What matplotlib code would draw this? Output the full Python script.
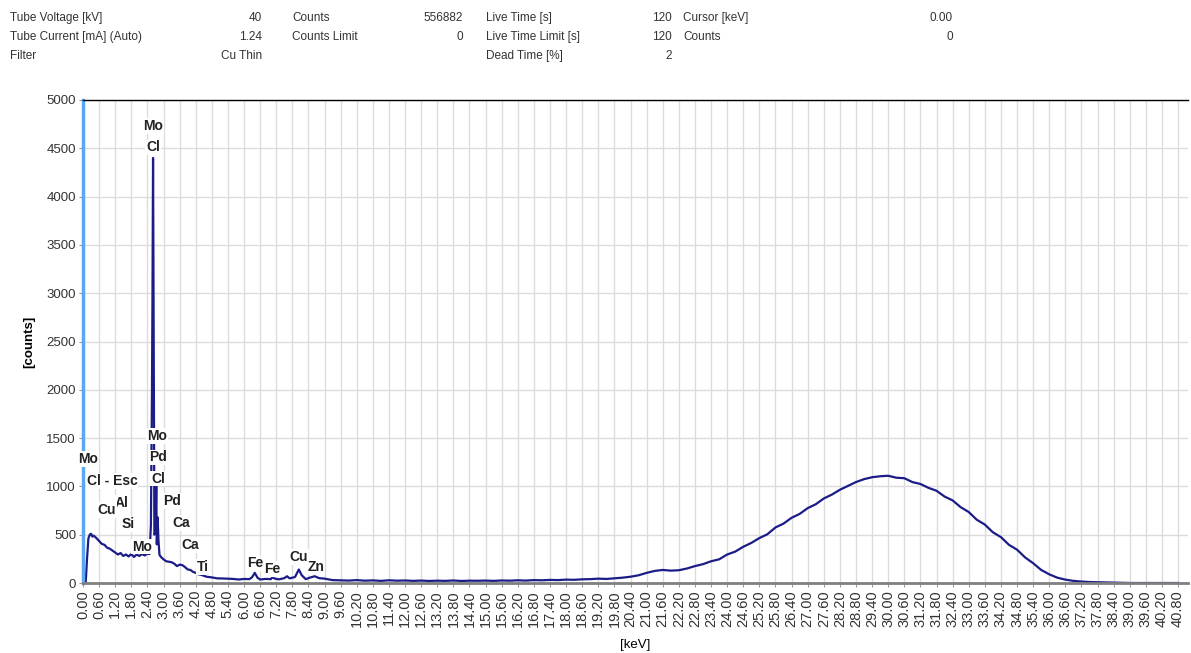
import matplotlib.pyplot as plt

plt.rcParams['font.family'] = ['Liberation Sans Narrow', 'Liberation Sans', 'DejaVu Sans']

# Espectro: zona baja (0 - 9 keV)
e_bajo = [0.00, 0.10, 0.15, 0.20, 0.25, 0.30, 0.35, 0.40, 0.50, 0.60, 0.70, 0.80,
          0.90, 1.00, 1.10, 1.20, 1.30, 1.40, 1.50, 1.60, 1.70, 1.80, 1.90, 2.00,
          2.10, 2.20, 2.30, 2.40, 2.48, 2.53, 2.57, 2.59, 2.61, 2.63, 2.66, 2.70,
          2.73, 2.75, 2.78, 2.81, 2.85, 2.88, 2.92, 3.00, 3.10, 3.20, 3.30, 3.40,
          3.50, 3.60, 3.70, 3.80, 3.90, 4.00, 4.10, 4.20, 4.30, 4.40, 4.60, 4.80,
          5.00, 5.20, 5.40, 5.60, 5.80, 6.00, 6.20, 6.30, 6.40, 6.50, 6.60, 6.80,
          7.00, 7.06, 7.15, 7.30, 7.50, 7.60, 7.70, 7.90, 8.04, 8.15, 8.30, 8.45,
          8.63, 8.80]
c_bajo = [0, 0, 250, 460, 500, 510, 480, 490, 465, 435, 405, 395,
          365, 355, 335, 315, 295, 310, 280, 295, 275, 300, 270, 295,
          280, 300, 285, 305, 300, 600, 2000, 3050, 4400, 2700, 500, 520,
          1000, 400, 680, 450, 290, 280, 265, 245, 225, 220, 215, 200,
          175, 190, 185, 165, 140, 135, 115, 105, 90, 85, 65, 58,
          48, 47, 44, 42, 36, 42, 40, 60, 105, 55, 36, 42,
          40, 60, 45, 38, 50, 70, 48, 62, 140, 80, 40, 55,
          70, 50]

# Zona alta (9 - 40.8 keV), cada 0.3 keV
e_alto = [9.0, 9.3, 9.6, 9.9, 10.2, 10.5, 10.8, 11.1, 11.4, 11.7, 12.0, 12.3,
          12.6, 12.9, 13.2, 13.5, 13.8, 14.1, 14.4, 14.7, 15.0, 15.3, 15.6, 15.9,
          16.2, 16.5, 16.8, 17.1, 17.4, 17.7, 18.0, 18.3, 18.6, 18.9, 19.2, 19.5,
          19.8, 20.1, 20.4, 20.7, 21.0, 21.3, 21.6, 21.9, 22.2, 22.5, 22.8, 23.1,
          23.4, 23.7, 24.0, 24.3, 24.6, 24.9, 25.2, 25.5, 25.8, 26.1, 26.4, 26.7,
          27.0, 27.3, 27.6, 27.9, 28.2, 28.5, 28.8, 29.1, 29.4, 29.7, 30.0, 30.3,
          30.6, 30.9, 31.2, 31.5, 31.8, 32.1, 32.4, 32.7, 33.0, 33.3, 33.6, 33.9,
          34.2, 34.5, 34.8, 35.1, 35.4, 35.7, 36.0, 36.3, 36.6, 36.9, 37.2, 37.5,
          37.8, 38.1, 38.4, 38.7, 39.0, 40.8]
c_alto = [45, 30, 28, 25, 30, 24, 27, 22, 28, 24, 26, 22,
          25, 21, 24, 22, 26, 21, 24, 23, 25, 22, 26, 24,
          28, 25, 30, 28, 32, 30, 35, 33, 38, 40, 45, 42,
          48, 55, 65, 80, 105, 125, 135, 128, 132, 150, 175, 195,
          225, 245, 295, 325, 375, 415, 465, 505, 575, 615, 675, 715,
          775, 815, 875, 915, 965, 1005, 1045, 1075, 1095, 1105, 1110, 1090,
          1085, 1045, 1025, 985, 955, 895, 855, 785, 735, 655, 605, 525,
          475, 395, 345, 265, 205, 135, 90, 55, 35, 22, 15, 10,
          8, 6, 4, 2, 0, 0]

energia = e_bajo + e_alto
cuentas = c_bajo + c_alto

# Etiquetas de elementos (texto, keV, cuentas)
etiquetas = [('Mo', 2.61, 4730), ('Cl', 2.61, 4510),
             ('Mo', 2.76, 1520), ('Pd', 2.79, 1300), ('Cl', 2.79, 1080),
             ('Pd', 3.32, 850), ('Ca', 3.65, 620), ('Ca', 3.99, 395), ('Ti', 4.47, 165),
             ('Mo', 0.19, 1285), ('Cl - Esc', 1.08, 1055), ('Al', 1.42, 830),
             ('Si', 1.68, 610), ('Cu', 0.89, 755), ('Mo', 2.20, 375),
             ('Fe', 6.41, 205), ('Fe', 7.04, 145), ('Cu', 8.05, 270), ('Zn', 8.68, 165)]

# Cabecera
cabecera = [('Tube Voltage [kV]', '40', 'Counts', '556882', 'Live Time [s]', '120', 'Cursor [keV]', '0.00'),
            ('Tube Current [mA] (Auto)', '1.24', 'Counts Limit', '0', 'Live Time Limit [s]', '120', 'Counts', '0'),
            ('Filter', 'Cu Thin', '', '', 'Dead Time [%]', '2', '', '')]

W, H = 1191, 653
fig = plt.figure(figsize=(W / 100, H / 100), dpi=100)
ax = fig.add_axes([83 / W, 1 - 583 / H, (1188 - 83) / W, (583 - 100) / H])

ax.plot(energia, cuentas, color='#1c1c88', lw=1.6)

ax.set_xlim(0, 41.17)
ax.set_ylim(0, 5000)
xt = [round(0.6 * i, 2) for i in range(69)]
ax.set_xticks(xt)
ax.set_xticklabels([f'{v:.2f}' for v in xt], rotation=90, fontsize=10.5, color='#333333')
ax.set_yticks(range(0, 5001, 500))
ax.set_yticklabels([str(v) for v in range(0, 5001, 500)], fontsize=9.5, color='#333333')
ax.tick_params(axis='both', length=3, color='#999999', pad=2)
ax.grid(True, color='#dcdcdc', lw=1)
ax.set_axisbelow(True)

ax.spines['left'].set_color('#5aa8ee')
ax.spines['left'].set_linewidth(2.5)
ax.spines['top'].set_color('black')
ax.spines['top'].set_linewidth(1)
ax.spines['bottom'].set_color('#808080')
ax.spines['bottom'].set_linewidth(2)
ax.spines['right'].set_visible(False)

ax.set_ylabel('[counts]', fontsize=9.5, fontweight='bold')
ax.yaxis.set_label_coords(-0.043, 0.5)
ax.set_xlabel('[keV]', fontsize=9.5, va='center')
ax.xaxis.set_label_coords(0.5, -(645 - 583) / 483)

for txt, x, y in etiquetas:
    ax.text(x, y, txt, ha='center', va='center', fontsize=10, fontweight='bold',
            color='#222222', bbox=dict(facecolor='white', edgecolor='none', pad=0.5))

# cabecera de parametros
cols = [(10, 'left'), (262, 'right'), (292, 'left'), (463, 'right'),
        (486, 'left'), (672, 'right'), (683, 'left'), (953, 'right')]
filas_y = [18, 37, 56]
for fila, yy in zip(cabecera, filas_y):
    for txt, (xx, al) in zip(fila, cols):
        if txt:
            fig.text(xx / W, 1 - yy / H, txt, ha=al, va='center', fontsize=8.5, color='#333333')

fig.savefig('out.png', dpi=100)
